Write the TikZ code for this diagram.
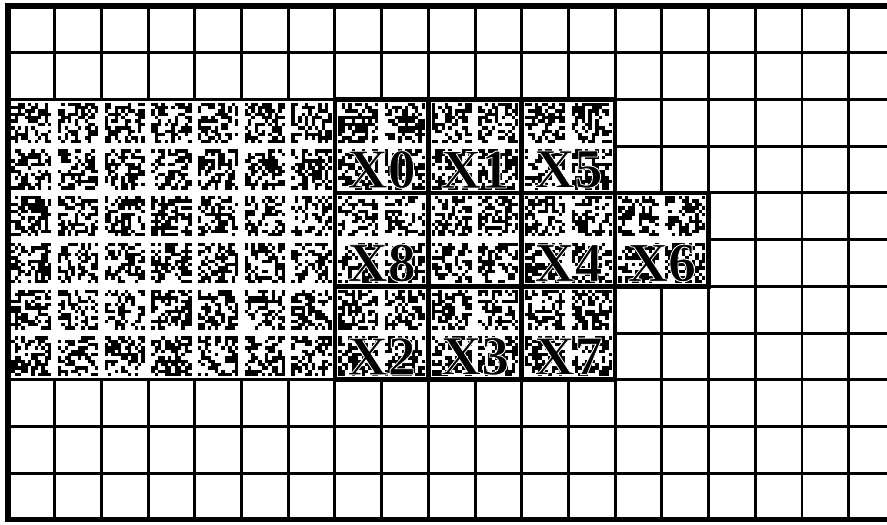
\documentclass[tikz,border=0pt]{standalone}
\usepackage{xcolor}
\usepackage{fontspec}
\usepackage{tikz}
\usetikzlibrary{calc}

\newfontfamily\lblfont{Liberation Serif}

\tikzset{
  gridline/.style={line width=1.8pt},
  blockline/.style={line width=2.8pt},
  frameline/.style={line width=3.2pt},
  lbl/.style={font=\lblfont\bfseries\fontsize{34}{34}\selectfont, inner sep=0pt},
}

% black letters with a white rim (fill, then white stroke)
\newcommand\halo[1]{%
  \special{pdf:literal direct 2 Tr 1 1 1 RG 0.5 w}#1%
  \special{pdf:literal direct 0 Tr 0 0 0 RG}}

% speckled cell with lower left corner at (#1,#2)
\newcommand\noisecell[2]{%
  \foreach \i in {0,...,11}{%
    \foreach \j in {0,...,11}{%
      \pgfmathsetmacro\rnoise{rnd}%
      \ifdim\rnoise pt<0.5pt
        \fill (#1+0.07+\i*0.0717,#2+0.07+\j*0.0717) rectangle ++(0.0717,0.0717);
      \fi}}}

\begin{document}
\begin{tikzpicture}[x=1cm,y=1cm]
\useasboundingbox (-0.17,-0.11) rectangle (18.82,11.13);
\pgfmathsetseed{7}

% grid of cells
\foreach \y in {1,...,10}
  \draw[gridline] (0,\y) -- (18.82,\y);
\foreach \x in {1,...,18}
  \draw[gridline] (\x,0) -- (\x,11);

% speckled area
\fill[white] (0,3) rectangle (13,9);
\fill[white] (13,5) rectangle (15,7);
\foreach \col in {0,...,12}
  \foreach \row in {3,...,8}
    {\noisecell{\col}{\row}}
\foreach \col in {13,14}
  \foreach \row in {5,6}
    {\noisecell{\col}{\row}}
\draw[gridline] (0,9) -- (7,9);
\draw[gridline] (0,3) -- (7,3);

% 2x2 blocks
\foreach \x in {7,9,11}
  \foreach \y in {3,5,7}
    \draw[blockline] (\x,\y) rectangle ++(2,2);
\draw[blockline] (13,5) rectangle ++(2,2);

% outer frame
\draw[frameline] (18.82,11) -- (0,11) -- (0,0) -- (18.82,0);

% block labels
\node[lbl] (x0) at (8,7.5) {\halo{X0}};
\node[lbl] (x1) at (10,7.5) {\halo{X1}};
\node[lbl] (x5) at (12,7.5) {\halo{X5}};
\node[lbl] (x8) at (8,5.5) {\halo{X8}};
\node[lbl] (x4) at (12,5.5) {\halo{X4}};
\node[lbl] (x6) at (14,5.5) {\halo{X6}};
\node[lbl] (x2) at (8,3.5) {\halo{X2}};
\node[lbl] (x3) at (10,3.5) {\halo{X3}};
\node[lbl] (x7) at (12,3.5) {\halo{X7}};
\end{tikzpicture}
\end{document}
